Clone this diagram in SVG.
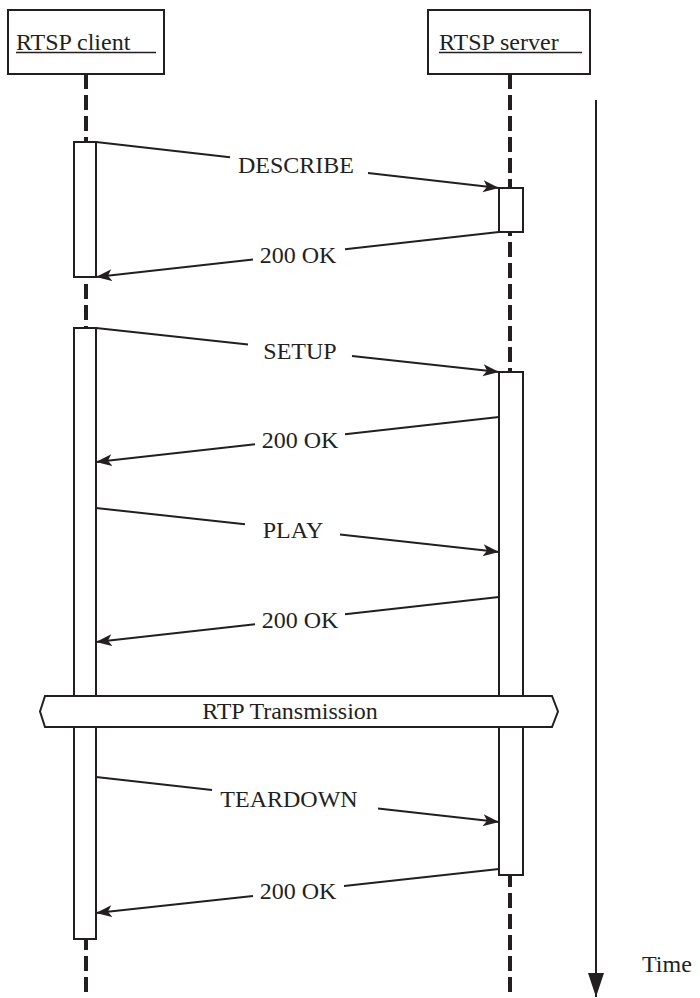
<svg xmlns="http://www.w3.org/2000/svg" width="700" height="998" viewBox="0 0 700 998">
<style>
  .box{fill:#fff;stroke:#231f20;stroke-width:2}
  .act{fill:#fff;stroke:#231f20;stroke-width:2}
  .life{stroke:#231f20;stroke-width:4;stroke-dasharray:15 6;fill:none}
  .msg{stroke:#231f20;stroke-width:2;fill:none}
  .txt{font-family:"Liberation Serif","Times New Roman",serif;font-size:24px;fill:#231f20}
  .mid{text-anchor:middle}
  .ul{stroke:#231f20;stroke-width:1.6}
</style>
<defs>
  <marker id="ah" markerUnits="userSpaceOnUse" markerWidth="18" markerHeight="14" refX="16" refY="6" orient="auto">
    <path d="M0,0 L16,6 L0,12 L4,6 z" fill="#231f20"/>
  </marker>
  <marker id="th" markerUnits="userSpaceOnUse" markerWidth="18" markerHeight="26" refX="8" refY="24" orient="0">
    <path d="M0,0 L16,0 L8,24 z" fill="#231f20"/>
  </marker>
</defs>
<rect width="700" height="998" fill="#fff"/>

<g id="lifelines">
  <line class="life" x1="86" y1="74" x2="86" y2="998"/>
  <line class="life" x1="510" y1="74" x2="510" y2="998"/>
</g>

<g id="client">
  <rect class="box" x="8" y="10" width="156" height="64"/>
  <text class="txt" x="16" y="50">RTSP client</text>
  <line class="ul" x1="16" y1="52.5" x2="156" y2="52.5"/>
</g>
<g id="server">
  <rect class="box" x="428" y="10" width="162" height="64"/>
  <text class="txt" x="439" y="50">RTSP server</text>
  <line class="ul" x1="439" y1="52.5" x2="582" y2="52.5"/>
</g>

<g id="activations">
  <rect id="client-act1" class="act" x="74" y="142" width="22" height="135"/>
  <rect id="client-act2" class="act" x="74" y="328" width="22" height="611"/>
  <rect id="server-act1" class="act" x="499" y="188" width="24" height="44"/>
  <rect id="server-act2" class="act" x="499" y="372" width="24" height="503"/>
</g>

<g id="connectors">
  <line class="msg" x1="96" y1="142" x2="230" y2="157.3"/>
  <line class="msg" x1="368" y1="173" x2="499" y2="188" marker-end="url(#ah)"/>

  <line class="msg" x1="499" y1="232" x2="345" y2="249.2"/>
  <line class="msg" x1="253" y1="259.5" x2="96" y2="277" marker-end="url(#ah)"/>

  <line class="msg" x1="96" y1="328" x2="248" y2="344.6"/>
  <line class="msg" x1="352" y1="355.9" x2="499" y2="372" marker-end="url(#ah)"/>

  <line class="msg" x1="499" y1="417" x2="345" y2="434.2"/>
  <line class="msg" x1="255" y1="444.2" x2="96" y2="462" marker-end="url(#ah)"/>

  <line class="msg" x1="96" y1="508" x2="245" y2="524.3"/>
  <line class="msg" x1="340" y1="534.6" x2="499" y2="552" marker-end="url(#ah)"/>

  <line class="msg" x1="499" y1="597" x2="345" y2="614.2"/>
  <line class="msg" x1="255" y1="624.2" x2="96" y2="642" marker-end="url(#ah)"/>

  <line class="msg" x1="96" y1="777" x2="212" y2="790"/>
  <line class="msg" x1="378" y1="808.5" x2="499" y2="822" marker-end="url(#ah)"/>

  <line class="msg" x1="499" y1="869" x2="344" y2="885.9"/>
  <line class="msg" x1="253" y1="895.9" x2="96" y2="913" marker-end="url(#ah)"/>

  <line class="msg" x1="596" y1="100" x2="596" y2="997" marker-end="url(#th)"/>
</g>

<g id="labels">
  <text class="txt mid" x="296" y="173">DESCRIBE</text>
  <text class="txt mid" x="298" y="263">200 OK</text>
  <text class="txt mid" x="300" y="359">SETUP</text>
  <text class="txt mid" x="300" y="448">200 OK</text>
  <text class="txt mid" x="293" y="538">PLAY</text>
  <text class="txt mid" x="300" y="628">200 OK</text>
  <text class="txt mid" x="289" y="807">TEARDOWN</text>
  <text class="txt mid" x="298" y="899">200 OK</text>
</g>

<g id="rtp">
  <polygon class="box" points="40,711.5 45,696 552,696 558,711.5 552,727 45,727"/>
  <text class="txt mid" x="290" y="719">RTP Transmission</text>
</g>

<g id="time">
  <text class="txt" x="642" y="972">Time</text>
</g>
</svg>
